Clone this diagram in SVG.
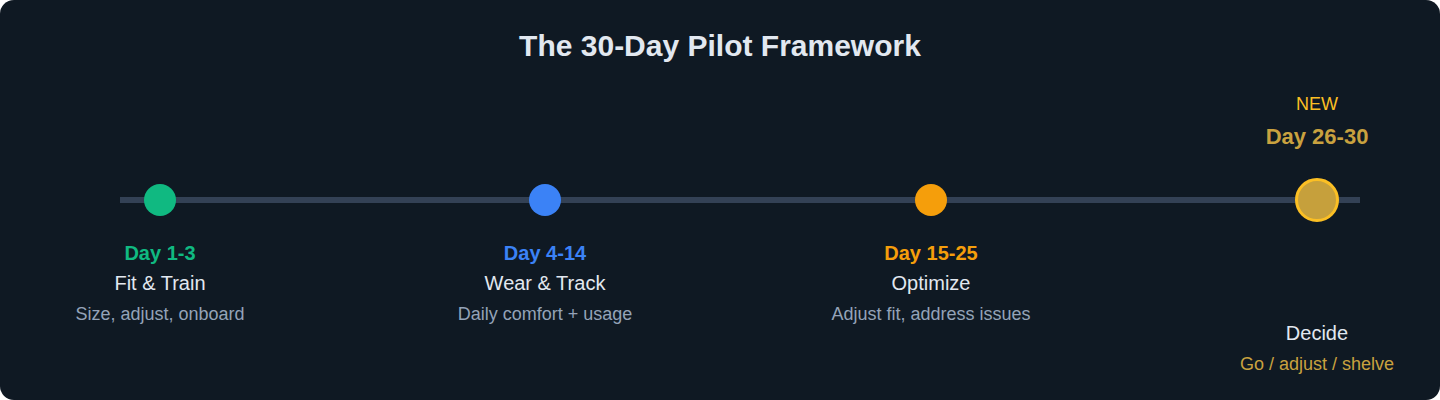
<svg xmlns="http://www.w3.org/2000/svg" width="1440" height="400" viewBox="0 0 1440 400">
<style>
text{font-family:"Liberation Sans",Arial,sans-serif;text-anchor:middle}
.title{font-size:30px;font-weight:bold;fill:#e2e8f0}
.day{font-size:20px;font-weight:bold}
.name{font-size:20px;fill:#e2e8f0}
.desc{font-size:18px;fill:#94a3b8}
.gold{fill:#c9a23f}
</style>
<rect x="0" y="0" width="1440" height="400" rx="14" fill="#0f1923"/>
<text class="title" x="720" y="56">The 30-Day Pilot Framework</text>
<g id="connectors">
<line x1="120" y1="200" x2="1360" y2="200" stroke="#334155" stroke-width="6"/>
</g>
<g id="node-day1-3">
<circle cx="160" cy="200" r="16" fill="#10b981"/>
<text class="day" x="160" y="260" fill="#10b981">Day 1-3</text>
<text class="name" x="160" y="290">Fit &amp; Train</text>
<text class="desc" x="160" y="320">Size, adjust, onboard</text>
</g>
<g id="node-day4-14">
<circle cx="545" cy="200" r="16" fill="#3b82f6"/>
<text class="day" x="545" y="260" fill="#3b82f6">Day 4-14</text>
<text class="name" x="545" y="290">Wear &amp; Track</text>
<text class="desc" x="545" y="320">Daily comfort + usage</text>
</g>
<g id="node-day15-25">
<circle cx="931" cy="200" r="16" fill="#f59e0b"/>
<text class="day" x="931" y="260" fill="#f59e0b">Day 15-25</text>
<text class="name" x="931" y="290">Optimize</text>
<text class="desc" x="931" y="320">Adjust fit, address issues</text>
</g>
<g id="node-day26-30">
<circle cx="1317" cy="200" r="20.5" fill="#c6a03c" stroke="#fbbf24" stroke-width="3"/>
<text x="1317" y="110" font-size="18" fill="#fbbf24">NEW</text>
<text class="gold" x="1317" y="144" font-size="22" font-weight="bold">Day 26-30</text>
<text class="name" x="1317" y="340">Decide</text>
<text class="gold" x="1317" y="370" font-size="18">Go / adjust / shelve</text>
</g>
</svg>
